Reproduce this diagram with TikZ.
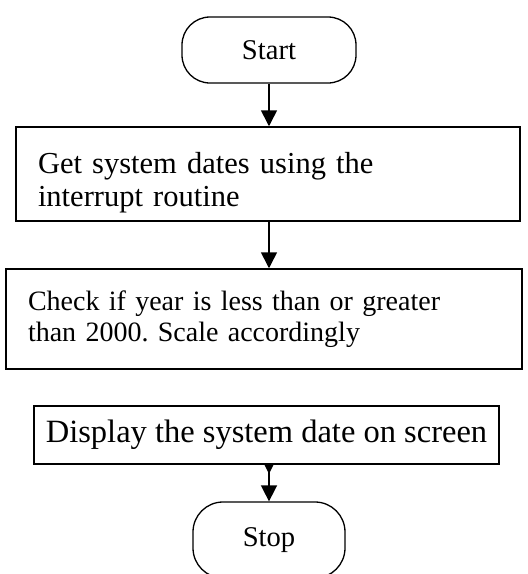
\documentclass[tikz,border=0pt]{standalone}
\usepackage{fontspec}
\setmainfont{Liberation Serif}
\usetikzlibrary{arrows.meta}
\begin{document}
\frenchspacing
\begin{tikzpicture}[x=1pt,y=-1pt,
  terminal/.style={draw, line width=1.3pt, rounded corners=28pt, inner sep=0pt,
    font=\fontsize{28.6}{32}\selectfont},
  procbox/.style={draw, line width=1.5pt, inner ysep=0pt},
  flow/.style={line width=1.6pt, -{Triangle[width=16pt,length=16pt]}}]
\useasboundingbox (0,0) rectangle (528,574);

% start and end terminals
\node[terminal, minimum width=174pt, minimum height=66pt] (start) at (269,50) {Start};
\node[terminal, minimum width=152pt, minimum height=76pt, rounded corners=30pt] (stop) at (269,540) {Stop};

% processing steps
\node[procbox, minimum width=504pt, minimum height=94pt, inner xsep=22pt, text width=460pt,
  align=left, font=\fontsize{30.5}{33}\selectfont] (get) at (268,174)
  {\rule{0pt}{38pt}Get system dates using the\\interrupt routine};
\node[procbox, minimum width=516pt, minimum height=100pt, inner xsep=22pt, text width=472pt,
  align=left, font=\fontsize{28}{31}\selectfont] (check) at (264,319)
  {Check if year is less than or greater\\than 2000. Scale accordingly};
\node[procbox, minimum width=465pt, minimum height=58pt, inner xsep=0pt,
  font=\fontsize{32.5}{34}\selectfont] (disp) at (266.5,435)
  {Display the system date on screen};

% connectors
\draw[flow] (start.south) -- (start.south |- get.north);
\draw[flow] (start.south |- get.south) -- (start.south |- check.north);
\draw[flow] (start.south |- disp.south) -- (stop.north);
\fill (start.south |- disp.south) ++(-4.5,0) -- ++(9,0) -- ++(-4.5,9) -- cycle;
\end{tikzpicture}
\end{document}
